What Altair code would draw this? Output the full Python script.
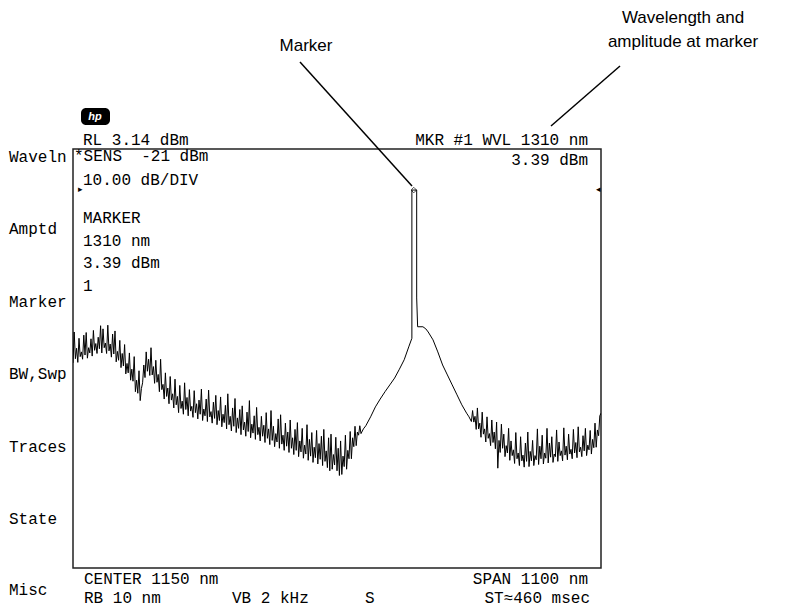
import altair as alt
import pandas as pd

# ---------------- data read from the screen ----------------
# sweep: center 1150 nm, span 1100 nm -> 600 .. 1700 nm
# noisy left part: lower points of the trace (every 5 nm) and the tops between them
left_low_wl = list(range(600, 1205, 5))
left_low_dbm = [
    -37.7, -36.9, -37.6, -36.5, -37.0, -36.2, -36.8, -35.8, -36.4, -35.3,
    -35.9, -35.0, -35.8, -34.8, -35.9, -35.4, -36.6, -36.0, -37.5, -37.2,
    -38.6, -38.3, -39.8, -39.6, -41.0, -41.2, -43.2, -43.5, -44.9, -41.5,
    -40.5, -39.3, -40.1, -40.0, -41.6, -41.4, -43.2, -42.8, -44.6, -44.1,
    -45.5, -44.8, -46.3, -45.7, -47.2, -46.4, -47.5, -46.6, -47.8, -46.9,
    -48.1, -47.2, -48.4, -47.5, -48.7, -47.8, -48.9, -48.0, -49.2, -48.3,
    -49.5, -48.7, -49.9, -49.1, -50.3, -49.5, -50.7, -49.8, -51.0, -50.2,
    -51.4, -50.5, -51.7, -50.8, -52.0, -51.1, -52.3, -51.4, -52.6, -51.7,
    -52.9, -52.1, -53.3, -52.5, -53.7, -52.8, -54.0, -53.2, -54.4, -53.6,
    -54.8, -54.0, -55.2, -54.4, -55.6, -54.7, -55.9, -55.1, -56.3, -55.5,
    -56.7, -55.8, -57.0, -56.1, -57.3, -56.5, -57.7, -58.3, -58.0, -57.2,
    -58.3, -59.2, -59.0, -57.5, -58.0, -56.0, -56.0, -53.7, -53.5, -51.5,
    -51.2,
]
left_high_wl = [w + 2.5 for w in range(600, 1200, 5)]
left_high_dbm = [
    -31.8, -34.9, -33.0, -35.6, -32.4, -31.9, -34.8, -33.1, -31.5, -34.0,
    -32.8, -30.6, -31.2, -33.9, -30.5, -34.1, -32.2, -31.6, -35.5, -33.4,
    -35.9, -34.2, -37.8, -35.8, -38.9, -36.5, -41.0, -39.2, -42.6, -38.1,
    -35.6, -37.0, -34.8, -38.4, -37.2, -39.9, -37.0, -41.8, -39.6, -42.5,
    -40.3, -43.6, -40.8, -44.1, -42.0, -45.0, -41.5, -44.3, -42.8, -46.0,
    -43.0, -45.5, -44.8, -42.7, -46.5, -44.6, -42.9, -47.0, -45.2, -43.9,
    -46.8, -44.2, -47.5, -45.8, -43.6, -47.9, -46.3, -44.5, -48.2, -46.6,
    -45.9, -49.0, -47.1, -44.9, -49.4, -47.8, -46.2, -50.0, -47.9, -49.6,
    -47.2, -50.3, -46.8, -49.8, -51.2, -48.4, -47.6, -51.5, -49.2, -50.9,
    -48.6, -52.0, -50.4, -49.1, -52.6, -50.2, -53.4, -49.5, -52.3, -51.0,
    -53.8, -50.6, -53.1, -51.7, -50.4, -54.5, -52.0, -51.3, -55.2, -51.9,
    -54.0, -52.6, -55.5, -51.5, -54.4, -50.8, -52.0, -49.8, -50.9, -49.7,
]
# smooth flank, the signal peak at the marker and the falling flank
peak_wl = [1205, 1210, 1220, 1230, 1240, 1250, 1260, 1270, 1280, 1290,
           1300, 1306, 1306, 1310, 1316, 1316, 1318, 1329, 1335, 1340,
           1350, 1360, 1370, 1380, 1390, 1400, 1410, 1420, 1425]
peak_dbm = [-50.3, -49.7, -48.0, -46.1, -44.6, -43.2, -41.9, -40.6, -38.9, -37.1,
            -34.5, -33.0, -4.7, -4.7, -4.7, -25.3, -30.8, -30.8, -31.2, -31.8,
            -33.3, -35.6, -38.1, -40.0, -41.9, -43.8, -45.7, -47.3, -48.0]
# noisy right part
right_low_wl = list(range(1430, 1705, 5))
right_low_dbm = [
    -48.9, -49.0, -50.4, -50.3, -51.9, -51.3, -52.8, -52.1, -53.5, -52.9,
    -54.1, -57.8, -54.8, -54.0, -55.6, -54.9, -56.3, -55.4, -56.9, -56.0,
    -57.3, -56.4, -57.6, -56.5, -57.5, -56.4, -57.3, -56.2, -57.1, -56.0,
    -57.0, -55.9, -56.8, -55.7, -56.7, -55.6, -56.5, -55.4, -56.4, -55.3,
    -56.2, -55.1, -56.0, -54.9, -55.8, -54.7, -55.6, -54.5, -55.4, -54.3,
    -55.1, -53.9, -53.8, -51.6, -47.3,
]
right_high_wl = [w + 2.5 for w in range(1430, 1700, 5)]
right_high_dbm = [
    -46.8, -47.9, -46.3, -49.2, -47.1, -50.3, -48.0, -51.2, -48.6, -50.9,
    -49.0, -52.5, -49.4, -51.3, -53.5, -50.2, -52.6, -54.3, -51.0, -54.9,
    -51.8, -55.3, -53.0, -50.9, -54.6, -52.5, -55.4, -50.3, -53.6, -51.5,
    -54.9, -50.2, -53.0, -51.8, -55.1, -50.5, -52.8, -54.5, -50.1, -53.6,
    -51.3, -54.2, -50.4, -52.9, -49.9, -53.8, -51.6, -50.2, -53.4, -50.6,
    -52.3, -49.2, -50.5, -47.8,
]
marker_wl = [1310]
marker_dbm = [-4.7]

x_domain = [600, 1700]
y_domain = [-76.86, 3.14]   # RL 3.14 dBm, 10 dB/div, 8 div

softkeys = ["Waveln", "Amptd", "Marker", "BW,Swp", "Traces", "State", "Misc"]


def interleave(low_w, low_d, high_w, high_d):
    w, d = [], []
    for k in range(len(low_w)):
        w.append(low_w[k]); d.append(low_d[k])
        if k < len(high_w):
            w.append(high_w[k]); d.append(high_d[k])
    return w, d


# ---------------- chart ----------------
lw, ld = interleave(left_low_wl, left_low_dbm, left_high_wl, left_high_dbm)
rw, rd = interleave(right_low_wl, right_low_dbm, right_high_wl, right_high_dbm)
wl = lw + peak_wl + rw
db = ld + peak_dbm + rd
trace_df = pd.DataFrame({"wl": wl, "dbm": db, "i": list(range(len(wl)))})

xs = alt.Scale(domain=x_domain, nice=False, zero=False)
ys = alt.Scale(domain=y_domain, nice=False, zero=False)

trace = alt.Chart(trace_df).mark_line(color="black", strokeWidth=1, clip=True).encode(
    x=alt.X("wl:Q", scale=xs, axis=None),
    y=alt.Y("dbm:Q", scale=ys, axis=None),
    order="i:Q",
)

mk = alt.Chart(pd.DataFrame({"wl": marker_wl, "dbm": marker_dbm})).mark_point(
    shape="diamond", size=30, filled=False, color="black", strokeWidth=1
).encode(x=alt.X("wl:Q", scale=xs), y=alt.Y("dbm:Q", scale=ys))

one = pd.DataFrame({"k": [0]})
MONO = "Liberation Mono"
SANS = "Liberation Sans"


def label(txt, x, y, align="left", size=16, font=MONO, color="black", **kw):
    return alt.Chart(one).mark_text(
        text=txt, align=align, baseline="middle", fontSize=size, font=font,
        color=color, **kw
    ).encode(x=alt.value(x), y=alt.value(y))


def seg(x1, y1, x2, y2, w=1.5):
    return alt.Chart(one).mark_rule(color="black", strokeWidth=w).encode(
        x=alt.value(x1), y=alt.value(y1), x2=alt.value(x2), y2=alt.value(y2)
    )


layers = [trace, mk]

# HP logo
layers.append(alt.Chart(one).mark_rect(color="black", cornerRadius=5).encode(
    x=alt.value(8), x2=alt.value(37), y=alt.value(-41), y2=alt.value(-24)))
layers.append(label("hp", 22, -32, align="center", size=11, font=SANS,
                    color="white", fontStyle="italic", fontWeight="bold"))

# screen annotations
layers += [
    label("RL 3.14 dBm", 10, -9),
    label("MKR #1 WVL 1310 nm", 515, -9, align="right"),
    label("3.39 dBm", 515, 11, align="right"),
    label("*SENS\u00a0\u00a0-21 dBm", 1, 7),
    label("10.00 dB/DIV", 10, 31),
    label("MARKER", 10, 69),
    label("1310 nm", 10, 92),
    label("3.39 dBm", 10, 114),
    label("1", 10, 137),
    label("CENTER 1150 nm", 11, 430),
    label("SPAN 1100 nm", 515, 430, align="right"),
    label("RB 10 nm", 11, 449),
    label("VB 2 kHz", 159, 449),
    label("S", 292, 449),
    label("ST\u2248460 msec", 517, 449, align="right"),
]
# softkey labels
for name, yy in zip(softkeys, [8, 80, 153, 225, 298, 370, 441]):
    layers.append(label(name, -64, yy))

# small limit indicators
layers.append(label("\u25b8", 5, 40, size=9))
layers.append(label("\u25c2", 523, 40, size=9))

# callouts
layers += [
    label("Wavelength and", 610, -131, align="center", size=17, font=SANS),
    label("amplitude at marker", 610, -107, align="center", size=17, font=SANS),
    label("Marker", 233, -103, align="center", size=17, font=SANS),
    seg(227, -87, 339, 37),
    seg(547, -83, 478, -23),
]

chart = alt.layer(*layers).properties(
    width=528, height=419,
    padding={"left": 65, "top": 141, "right": 180, "bottom": 40},
    autosize=alt.AutoSizeParams(type="none"),
).configure_view(stroke="#222", strokeWidth=1.5)

chart.save("out.html", embed_options={"renderer": "svg", "actions": False})
